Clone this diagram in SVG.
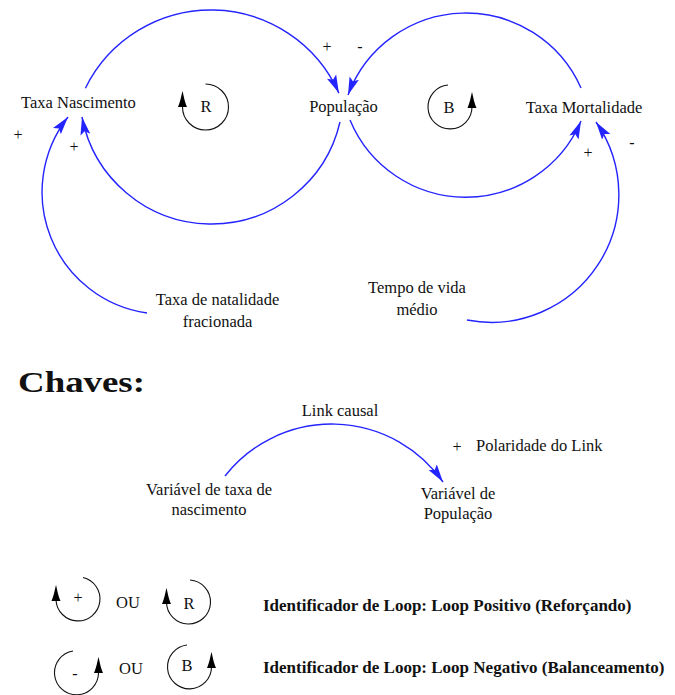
<svg xmlns="http://www.w3.org/2000/svg" width="675" height="695" viewBox="0 0 675 695">
  <defs>
    <style>
      .lbl { font-family: "Liberation Serif", "Times New Roman", serif; font-size: 16.5px; fill: #111; }
      .sm { font-family: "Liberation Serif", "Times New Roman", serif; font-size: 16px; fill: #111; }
      .bold { font-family: "Liberation Serif", "Times New Roman", serif; font-size: 17px; font-weight: bold; fill: #111; }
      .link { fill: none; stroke: #2424ff; stroke-width: 1.4; marker-end: url(#ah); }
      .loop { fill: none; stroke: #111; stroke-width: 1.1; }
      .tip { fill: #000; }
    </style>
    <marker id="ah" viewBox="0 0 18 11" refX="18" refY="5.5" markerWidth="18" markerHeight="11" markerUnits="userSpaceOnUse" orient="auto">
      <path d="M0,0.5 L18,5.5 L0,10.5 L3.5,5.5 Z" fill="#2424ff"/>
    </marker>
    <path id="lt" d="M0,0 C0.9,3 1.6,9 4.5,16 L-4.5,16 C-1.6,9 -0.9,3 0,0 Z"/>
  </defs>
  <rect width="675" height="695" fill="#fff"/>

  <g id="connectors">
    <path class="link" d="M85.4,88.2 A140,140 0 0 1 338.9,93.1"/>
    <path class="link" d="M340,122 A131.9,131.9 0 0 1 82,117"/>
    <path class="link" d="M581,88 A125.8,125.8 0 0 0 348,95"/>
    <path class="link" d="M350,120 A125.3,125.3 0 0 0 581,121"/>
    <path class="link" d="M147,313 A122,122 0 0 1 68,117"/>
    <path class="link" d="M467,320 A127.5,127.5 0 0 0 596,122"/>
    <path class="link" d="M225,476 A135.7,135.7 0 0 1 443,482"/>
  </g>

  <g id="polarities">
    <text class="sm" x="327" y="52" text-anchor="middle">+</text>
    <text class="sm" x="360" y="52" text-anchor="middle">-</text>
    <text class="sm" x="18" y="140" text-anchor="middle">+</text>
    <text class="sm" x="74" y="152" text-anchor="middle">+</text>
    <text class="sm" x="588" y="158" text-anchor="middle">+</text>
    <text class="sm" x="632" y="148" text-anchor="middle">-</text>
  </g>

  <g id="taxa-nascimento"><text class="lbl" x="78.5" y="108" text-anchor="middle">Taxa Nascimento</text></g>
  <g id="populacao"><text class="lbl" x="343.5" y="112" text-anchor="middle">População</text></g>
  <g id="taxa-mortalidade"><text class="lbl" x="584" y="113" text-anchor="middle">Taxa Mortalidade</text></g>
  <g id="taxa-natalidade-fracionada">
    <text class="lbl" x="217.5" y="305" text-anchor="middle">Taxa de natalidade</text>
    <text class="lbl" x="217.5" y="327" text-anchor="middle">fracionada</text>
  </g>
  <g id="tempo-vida-medio">
    <text class="lbl" x="417" y="293" text-anchor="middle">Tempo de vida</text>
    <text class="lbl" x="417" y="315" text-anchor="middle">médio</text>
  </g>

  <g id="loop-r">
    <path class="loop" d="M205.5,84 A23,23 0 1 1 182.5,107"/>
    <use href="#lt" class="tip" x="182.5" y="91"/>
    <text class="lbl" x="206" y="112" text-anchor="middle">R</text>
  </g>
  <g id="loop-b">
    <path class="loop" d="M448,85 A22,22 0 1 0 472,107"/>
    <use href="#lt" class="tip" x="472" y="92"/>
    <text class="lbl" x="449" y="113" text-anchor="middle">B</text>
  </g>

  <g id="chaves-title">
    <text x="18" y="392" font-family="'Liberation Serif', 'Times New Roman', serif" font-size="29" font-weight="bold" fill="#111" textLength="127" lengthAdjust="spacingAndGlyphs">Chaves:</text>
  </g>
  <g id="link-causal"><text class="lbl" x="340" y="416" text-anchor="middle">Link causal</text></g>
  <g id="polaridade">
    <text class="sm" x="457" y="452" text-anchor="middle">+</text>
    <text class="lbl" x="476" y="451">Polaridade do Link</text>
  </g>
  <g id="var-taxa-nascimento">
    <text class="lbl" x="209" y="495" text-anchor="middle">Variável de taxa de</text>
    <text class="lbl" x="209" y="515" text-anchor="middle">nascimento</text>
  </g>
  <g id="var-populacao">
    <text class="lbl" x="458" y="499" text-anchor="middle">Variável de</text>
    <text class="lbl" x="458" y="519" text-anchor="middle">População</text>
  </g>

  <g id="legend-positive">
    <path class="loop" d="M83,577.5 A22,22 0 1 1 56,600"/>
    <use href="#lt" class="tip" x="56" y="585"/>
    <text class="sm" x="78" y="603" text-anchor="middle">+</text>
    <text class="lbl" x="128" y="608" text-anchor="middle">OU</text>
    <path class="loop" d="M190,580 A22,22 0 1 1 166.5,602"/>
    <use href="#lt" class="tip" x="166.5" y="588"/>
    <text class="lbl" x="189" y="609" text-anchor="middle">R</text>
    <text class="bold" x="263" y="611">Identificador de Loop: Loop Positivo (Reforçando)</text>
  </g>
  <g id="legend-negative">
    <path class="loop" d="M73,651 A22,22 0 1 0 98.5,673"/>
    <use href="#lt" class="tip" x="98.5" y="657"/>
    <text class="sm" x="75" y="679" text-anchor="middle">-</text>
    <text class="lbl" x="131" y="674" text-anchor="middle">OU</text>
    <path class="loop" d="M187,645 A22,22 0 1 0 211.5,667"/>
    <use href="#lt" class="tip" x="211.5" y="652"/>
    <text class="lbl" x="187" y="671" text-anchor="middle">B</text>
    <text class="bold" x="263" y="673">Identificador de Loop: Loop Negativo (Balanceamento)</text>
  </g>
</svg>
